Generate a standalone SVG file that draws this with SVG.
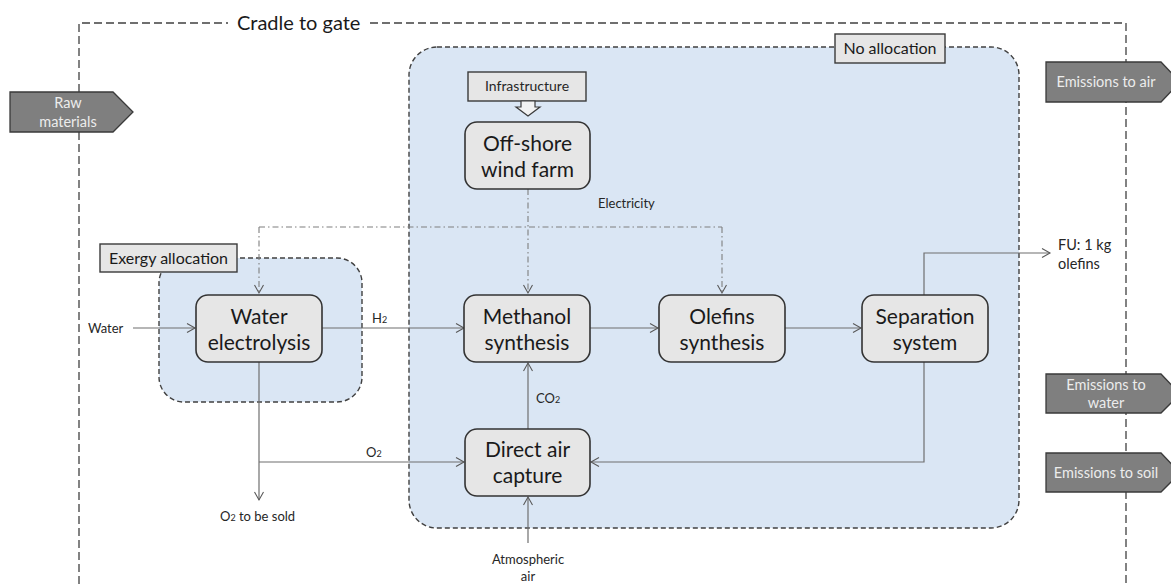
<svg xmlns="http://www.w3.org/2000/svg" width="1171" height="584" viewBox="0 0 1171 584">
<defs>
<marker id="arr" markerUnits="userSpaceOnUse" markerWidth="12" markerHeight="12" refX="9" refY="5" orient="auto">
<path d="M1,0.5 L9,5 L1,9.5" fill="none" stroke="#595959" stroke-width="1.1"/>
</marker>
<style>
.bg{fill:#ffffff}
.frame{fill:none;stroke:#404040;stroke-width:1.3;stroke-dasharray:8 4}
.region{fill:#dae6f4;stroke:#404040;stroke-width:1.4;stroke-dasharray:5 3}
.node{fill:#e6e6e6;stroke:#333333;stroke-width:1.6}
.label{fill:#e6e6e6;stroke:#3a3a3a;stroke-width:1.4}
.flow{fill:#7f7f7f;stroke:#3a3a3a;stroke-width:1.3}
.nt{font-family:Lato,"Liberation Sans",sans-serif;font-size:21px;fill:#1a1a1a;text-anchor:middle}
.lt{font-family:Lato,"Liberation Sans",sans-serif;font-size:16px;fill:#1a1a1a;text-anchor:middle}
.ft{font-family:Lato,"Liberation Sans",sans-serif;font-size:14.5px;fill:#ececec;text-anchor:middle}
.st{font-family:Lato,"Liberation Sans",sans-serif;font-size:13px;fill:#262626}
.title{font-family:Lato,"Liberation Sans",sans-serif;font-size:20px;fill:#1a1a1a}
.line{fill:none;stroke:#6f6f6f;stroke-width:1.2}
.elec{fill:none;stroke:#7f7f7f;stroke-width:1.1;stroke-dasharray:6 3 1.5 3}
.sub{font-size:9px}
</style>
</defs>
<rect class="bg" x="0" y="0" width="1171" height="584"/>

<g id="cradle-to-gate">
<path class="frame" d="M79,584 L79,23 L228,23 M370,23 L1126,23 L1126,584"/>
<text class="title" x="237" y="30">Cradle to gate</text>
</g>

<g id="no-allocation">
<rect class="region" x="409" y="47" width="610" height="481" rx="28" ry="28"/>
</g>

<g id="exergy-allocation">
<rect class="region" x="159" y="258" width="203" height="144" rx="25" ry="25"/>
</g>

<g id="connectors">
<path class="elec" d="M528,189 L528,293" marker-end="url(#arr)"/>
<path class="elec" d="M259,227 L722,227"/>
<path class="elec" d="M259,227 L259,293" marker-end="url(#arr)"/>
<path class="elec" d="M722,227 L722,293" marker-end="url(#arr)"/>
<path class="line" d="M133,328 L195,328" marker-end="url(#arr)"/>
<path class="line" d="M322,328 L464,328" marker-end="url(#arr)"/>
<path class="line" d="M590,328 L658,328" marker-end="url(#arr)"/>
<path class="line" d="M785,328 L861,328" marker-end="url(#arr)"/>
<path class="line" d="M924,295 L924,253 L1050,253" marker-end="url(#arr)"/>
<path class="line" d="M924,362 L924,462 L591,462" marker-end="url(#arr)"/>
<path class="line" d="M528,429 L528,363" marker-end="url(#arr)"/>
<path class="line" d="M259,362 L259,500" marker-end="url(#arr)"/>
<path class="line" d="M259,462 L464,462" marker-end="url(#arr)"/>
<path class="line" d="M528,543 L528,497" marker-end="url(#arr)"/>
</g>

<g id="label-no-allocation">
<rect class="label" x="835" y="34" width="110" height="29"/>
<text class="lt" x="890" y="54">No allocation</text>
</g>

<g id="label-exergy-allocation">
<rect class="label" x="100" y="244" width="137" height="28"/>
<text class="lt" x="168.5" y="264">Exergy allocation</text>
</g>

<g id="raw-materials">
<path class="flow" d="M10,92 L113,92 L133,112 L113,132 L10,132 Z"/>
<text class="ft" x="68" y="108">Raw</text>
<text class="ft" x="68" y="127">materials</text>
</g>

<g id="emissions-air">
<path class="flow" d="M1046,62 L1161,62 L1180,82 L1161,102 L1046,102 Z"/>
<text class="ft" x="1106" y="87">Emissions to air</text>
</g>

<g id="emissions-water">
<path class="flow" d="M1046,374 L1161,374 L1180,394 L1161,413 L1046,413 Z"/>
<text class="ft" x="1106" y="390">Emissions to</text>
<text class="ft" x="1106" y="408">water</text>
</g>

<g id="emissions-soil">
<path class="flow" d="M1046,453 L1161,453 L1180,473 L1161,492 L1046,492 Z"/>
<text class="ft" x="1106" y="478">Emissions to soil</text>
</g>

<g id="infrastructure">
<rect class="label" x="468" y="72" width="118" height="29"/>
<text class="st" x="527" y="91" text-anchor="middle" style="font-size:14px">Infrastructure</text>
<path d="M521,101 L535,101 L535,107 L540,107 L528,116 L516,107 L521,107 Z" fill="#f2f2f2" stroke="#3a3a3a" stroke-width="1.2"/>
</g>

<g id="wind-farm">
<rect class="node" x="465" y="122" width="125" height="67" rx="12" ry="12"/>
<text class="nt" x="527.5" y="151">Off-shore</text>
<text class="nt" x="527.5" y="177">wind farm</text>
</g>

<g id="water-electrolysis">
<rect class="node" x="196" y="295" width="126" height="67" rx="12" ry="12"/>
<text class="nt" x="259" y="324">Water</text>
<text class="nt" x="259" y="350">electrolysis</text>
</g>

<g id="methanol-synthesis">
<rect class="node" x="464" y="295" width="126" height="67" rx="12" ry="12"/>
<text class="nt" x="527" y="324">Methanol</text>
<text class="nt" x="527" y="350">synthesis</text>
</g>

<g id="olefins-synthesis">
<rect class="node" x="659" y="295" width="126" height="67" rx="12" ry="12"/>
<text class="nt" x="722" y="324">Olefins</text>
<text class="nt" x="722" y="350">synthesis</text>
</g>

<g id="separation-system">
<rect class="node" x="862" y="295" width="126" height="67" rx="12" ry="12"/>
<text class="nt" x="925" y="324">Separation</text>
<text class="nt" x="925" y="350">system</text>
</g>

<g id="direct-air-capture">
<rect class="node" x="465" y="429" width="125" height="67" rx="12" ry="12"/>
<text class="nt" x="527.5" y="457">Direct air</text>
<text class="nt" x="527.5" y="483">capture</text>
</g>

<g id="flow-labels">
<text class="st" x="88" y="333">Water</text>
<text class="st" x="372" y="323">H<tspan class="sub">2</tspan></text>
<text class="st" x="598" y="208">Electricity</text>
<text class="st" x="536" y="403">CO<tspan class="sub">2</tspan></text>
<text class="st" x="366" y="457">O<tspan class="sub">2</tspan></text>
<text class="st" x="220" y="521">O<tspan class="sub">2</tspan> to be sold</text>
<text class="st" x="1058" y="250" style="font-size:14.5px">FU: 1 kg</text>
<text class="st" x="1058" y="269" style="font-size:14.5px">olefins</text>
<text class="st" x="528" y="564" text-anchor="middle">Atmospheric</text>
<text class="st" x="528" y="581" text-anchor="middle">air</text>
</g>
</svg>
